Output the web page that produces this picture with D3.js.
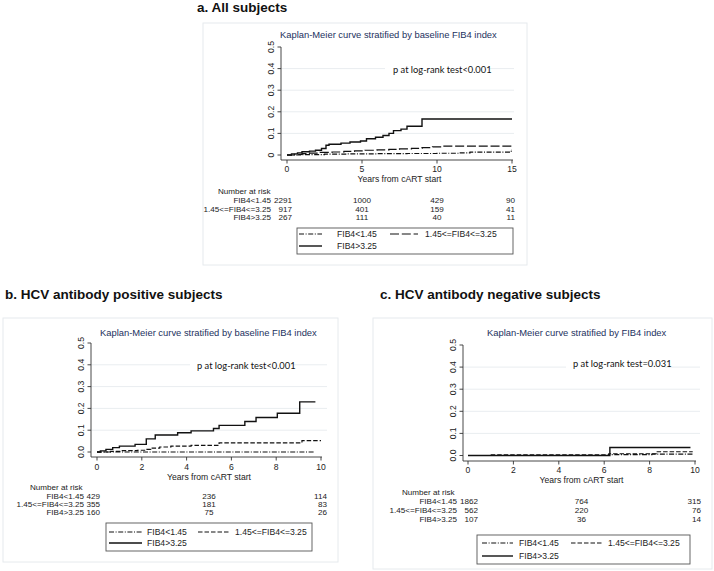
<!DOCTYPE html>
<html><head><meta charset="utf-8">
<script src="https://cdn.jsdelivr.net/npm/d3@7"></script>
<style>body{margin:0;background:#fff}svg{display:block}</style>
</head><body>
<svg id="chart" width="714" height="571"></svg>
<script>
// ---------- DATA ----------
const panelTitles = ["a. All subjects", "b. HCV antibody positive subjects", "c. HCV antibody negative subjects"];
const subtitles = ["Kaplan-Meier curve stratified by baseline FIB4 index", "Kaplan-Meier curve stratified by baseline FIB4 index", "Kaplan-Meier curve stratified by FIB4 index"];
const pTexts = ["p at log-rank test<0.001", "p at log-rank test<0.001", "p at log-rank test=0.031"];
const groups = ["FIB4<1.45", "1.45<=FIB4<=3.25", "FIB4>3.25"];
const xTitle = "Years from cART start";
const riskTitle = "Number at risk";
const yTicks = [0, 0.1, 0.2, 0.3, 0.4, 0.5];
const yLabelsA = ["0", "0.1", "0.2", "0.3", "0.4", "0.5"];
const yLabelsBC = ["0.0", "0.1", "0.2", "0.3", "0.4", "0.5"];
const xTicksA = [0, 5, 10, 15];
const xTicksBC = [0, 2, 4, 6, 8, 10];
const riskTimesA = [0, 5, 10, 15];
const riskTimesBC = [0, 5, 10];
const riskA = [[2291, 1000, 429, 90], [917, 401, 159, 41], [267, 111, 40, 11]];
const riskB = [[429, 236, 114], [355, 181, 83], [160, 75, 26]];
const riskC = [[1862, 764, 315], [562, 220, 76], [107, 36, 14]];

// cumulative incidence step curves: [years, proportion]
const curveA_low = [[0,0],[1,0.002],[2.5,0.004],[4,0.005],[6,0.006],[8,0.007],[10,0.008],[11.5,0.01],[12.2,0.013],[14.95,0.024],[15,0.024]];
const curveA_mid = [[0,0],[0.5,0.003],[1,0.006],[1.5,0.009],[2.2,0.012],[3,0.014],[3.8,0.017],[4.5,0.019],[5.2,0.022],[6,0.024],[6.8,0.026],[7.5,0.028],[8.3,0.031],[9,0.034],[9.7,0.038],[10.3,0.041],[15,0.041]];
const curveA_high = [[0,0],[0.3,0.005],[0.7,0.01],[1.0,0.015],[1.5,0.018],[1.9,0.022],[2.3,0.03],[2.6,0.045],[2.8,0.05],[3.6,0.055],[4.2,0.06],[4.9,0.065],[5.3,0.075],[5.9,0.082],[6.4,0.09],[6.8,0.1],[7.1,0.113],[7.6,0.12],[8.0,0.133],[9.0,0.167],[15,0.167]];
const curveB_low = [[0,0],[9.7,0]];
const curveB_mid = [[0,0],[0.6,0.003],[1.1,0.006],[1.8,0.008],[2.2,0.012],[2.4,0.018],[2.8,0.023],[3.3,0.027],[4.2,0.03],[5.45,0.042],[9.15,0.052],[10,0.052]];
const curveB_high = [[0,0],[0.15,0.005],[0.4,0.012],[0.7,0.02],[1.0,0.027],[1.7,0.035],[2.2,0.06],[2.6,0.078],[3.6,0.088],[4.2,0.097],[5.2,0.108],[5.45,0.122],[6.6,0.14],[7.1,0.158],[8.05,0.178],[9.05,0.23],[9.75,0.23]];
const curveC_low = [[0,0],[6.2,0.004],[8.1,0.006],[9.9,0.006]];
const curveC_mid = [[1.0,0.003],[6.2,0.008],[8.3,0.017],[9.9,0.017]];
const curveC_high = [[0,0],[6.25,0.036],[9.8,0.036]];

// ---------- LAYOUT ----------
const svg = d3.select("#chart");
const FONT = "'Liberation Sans', Arial, sans-serif";
const styles = {
  a: [{dash:"5,1.6,1,1.6"}, {dash:"9,2.8"}, {dash:null}],
  bc: [{dash:"5,1.6,1,1.6"}, {dash:"4.5,2"}, {dash:null}]
};

const panels = [
  {title: panelTitles[0], titleX: 197, titleY: 12, box: [203, 23, 527, 265],
   xd: [0, 15], xr: [287, 512], yr: [155, 47], yAxisX: 281, xAxisY: 160, gridR: 514,
   subX: 280, subY: 38, pX: 393, pY: 73, pBox: [385, 490],
   xTicks: xTicksA, yLabels: yLabelsA, tickY: 172, xTitleY: 182,
   riskX: 218, riskY: 194, rowY: [203, 211.5, 220], labelR: 271, riskTimes: riskTimesA, risk: riskA,
   firstR: 292, lastR: 515,
   curves: [curveA_low, curveA_mid, curveA_high], st: styles.a,
   leg: {box: [297, 228, 513, 254], r1: 234, r2: 246, l1: [299, 322], t1: 337, l2: [390, 418], t2: 425}},
  {title: panelTitles[1], titleX: 5, titleY: 299, box: [3, 318, 338, 562],
   xd: [0, 10], xr: [97, 321], yr: [452, 343], yAxisX: 91, xAxisY: 457, gridR: 327,
   subX: 100, subY: 336, pX: 197, pY: 369, pBox: [190, 290],
   xTicks: xTicksBC, yLabels: yLabelsBC, tickY: 469.5, xTitleY: 479.5,
   riskX: 30, riskY: 490, rowY: [499, 507, 515], labelR: 84, riskTimes: riskTimesBC, risk: riskB,
   firstR: 100, lastR: 327,
   curves: [curveB_low, curveB_mid, curveB_high], st: styles.bc,
   leg: {box: [106, 523, 312, 551], r1: 532, r2: 543, l1: [109, 142], t1: 147, l2: [198, 229], t2: 235}},
  {title: panelTitles[2], titleX: 380, titleY: 299, box: [373, 318, 712, 569],
   xd: [0, 10], xr: [468, 695], yr: [455.5, 345], yAxisX: 463, xAxisY: 461, gridR: 700,
   subX: 487, subY: 336, pX: 573, pY: 367, pBox: [566, 665],
   xTicks: xTicksBC, yLabels: yLabelsBC, tickY: 473.3, xTitleY: 483.3,
   riskX: 402, riskY: 495, rowY: [504, 513, 521.5], labelR: 457, riskTimes: riskTimesBC, risk: riskC,
   firstR: 478, lastR: 701,
   curves: [curveC_low, curveC_mid, curveC_high], st: styles.bc,
   leg: {box: [477, 535, 690, 564], r1: 543, r2: 556, l1: [482, 513], t1: 519, l2: [571, 603], t2: 608}}
];

panels.forEach((p, pi) => {
  const g = svg.append("g");
  g.append("rect").attr("x", p.box[0]).attr("y", p.box[1])
    .attr("width", p.box[2] - p.box[0]).attr("height", p.box[3] - p.box[1])
    .attr("fill", "#fff").attr("stroke", "#e6eaed").attr("stroke-width", 1);
  svg.append("text").attr("x", p.titleX).attr("y", p.titleY).text(p.title)
    .attr("font-family", FONT).attr("font-weight", "bold").attr("font-size", 13.5).attr("fill", "#111");

  const x = d3.scaleLinear().domain(p.xd).range(p.xr);
  const y = d3.scaleLinear().domain([0, 0.5]).range(p.yr);

  g.selectAll(".grid").data(yTicks.filter(v => v > 0 && v < 0.5)).join("line")
    .attr("x1", p.yAxisX).attr("x2", p.gridR).attr("y1", d => y(d)).attr("y2", d => y(d))
    .attr("stroke", "#e9edf0").attr("stroke-width", 1);

  g.append("text").attr("x", p.subX).attr("y", p.subY).text(subtitles[pi])
    .attr("font-family", FONT).attr("font-size", 9.4).attr("fill", "#23315e");

  g.append("rect").attr("x", p.pBox[0]).attr("y", p.pY - 9).attr("width", p.pBox[1] - p.pBox[0]).attr("height", 12).attr("fill", "#fff");
  g.append("text").attr("x", p.pX).attr("y", p.pY).text(pTexts[pi])
    .attr("font-family", "Lato, 'Open Sans', sans-serif").attr("font-size", 9.3).attr("fill", "#111");

  g.append("line").attr("x1", p.yAxisX).attr("x2", p.yAxisX).attr("y1", y(0.5)).attr("y2", p.xAxisY)
    .attr("stroke", "#333").attr("stroke-width", 0.9);
  g.selectAll(".yt").data(yTicks).join("line")
    .attr("x1", p.yAxisX - 3.5).attr("x2", p.yAxisX).attr("y1", d => y(d)).attr("y2", d => y(d))
    .attr("stroke", "#333").attr("stroke-width", 0.9);
  g.selectAll(".yl").data(yTicks).join("text")
    .attr("transform", d => `translate(${p.yAxisX - 7},${y(d)}) rotate(-90)`)
    .attr("text-anchor", "middle").attr("font-family", FONT).attr("font-size", 8.6).attr("fill", "#222")
    .text((d, i) => p.yLabels[i]);

  g.append("line").attr("x1", p.yAxisX).attr("x2", x(p.xd[1]) + 1).attr("y1", p.xAxisY).attr("y2", p.xAxisY)
    .attr("stroke", "#333").attr("stroke-width", 0.9);
  g.selectAll(".xt").data(p.xTicks).join("line")
    .attr("x1", d => x(d)).attr("x2", d => x(d)).attr("y1", p.xAxisY).attr("y2", p.xAxisY + 3.5)
    .attr("stroke", "#333").attr("stroke-width", 0.9);
  g.selectAll(".xl").data(p.xTicks).join("text")
    .attr("x", d => x(d)).attr("y", p.tickY).attr("text-anchor", "middle")
    .attr("font-family", FONT).attr("font-size", 8.6).attr("fill", "#222").text(d => d);
  g.append("text").attr("x", (x(p.xd[0]) + x(p.xd[1])) / 2).attr("y", p.xTitleY).attr("text-anchor", "middle")
    .attr("font-family", FONT).attr("font-size", 8.6).attr("fill", "#222").text(xTitle);

  const line = d3.line().x(d => x(d[0])).y(d => y(d[1])).curve(d3.curveStepAfter);
  [1, 0, 2].forEach(ci => {
    g.append("path").attr("d", line(p.curves[ci])).attr("fill", "none")
      .attr("stroke", "#111").attr("stroke-width", ci === 2 ? 1.4 : 1.2)
      .attr("stroke-dasharray", p.st[ci].dash);
  });

  const RF = 8.1;
  g.append("text").attr("x", p.riskX).attr("y", p.riskY).text(riskTitle)
    .attr("font-family", FONT).attr("font-size", RF).attr("fill", "#222");
  groups.forEach((gr, ri) => {
    g.append("text").attr("x", p.labelR).attr("y", p.rowY[ri]).attr("text-anchor", "end")
      .attr("font-family", FONT).attr("font-size", RF).attr("fill", "#222").text(gr);
    p.risk[ri].forEach((n, ti) => {
      const last = ti === p.riskTimes.length - 1;
      const first = ti === 0;
      const t = g.append("text").attr("y", p.rowY[ri]).attr("font-family", FONT).attr("font-size", RF).attr("fill", "#222").text(n);
      if (first) t.attr("x", p.firstR).attr("text-anchor", "end");
      else if (last) t.attr("x", p.lastR).attr("text-anchor", "end");
      else t.attr("x", x(p.riskTimes[ti])).attr("text-anchor", "middle");
    });
  });

  const L = p.leg;
  g.append("rect").attr("x", L.box[0]).attr("y", L.box[1]).attr("width", L.box[2] - L.box[0]).attr("height", L.box[3] - L.box[1])
    .attr("fill", "#fff").attr("stroke", "#555").attr("stroke-width", 0.9);
  const entries = [
    {ci: 0, x1: L.l1[0], x2: L.l1[1], tx: L.t1, y: L.r1},
    {ci: 1, x1: L.l2[0], x2: L.l2[1], tx: L.t2, y: L.r1},
    {ci: 2, x1: L.l1[0], x2: L.l1[1], tx: L.t1, y: L.r2}
  ];
  entries.forEach(e => {
    g.append("line").attr("x1", e.x1).attr("x2", e.x2).attr("y1", e.y).attr("y2", e.y)
      .attr("stroke", "#111").attr("stroke-width", e.ci === 2 ? 1.4 : 1.2).attr("stroke-dasharray", p.st[e.ci].dash);
    g.append("text").attr("x", e.tx).attr("y", e.y + 3).text(groups[e.ci])
      .attr("font-family", FONT).attr("font-size", 8.6).attr("fill", "#222");
  });
});
</script>
</body></html>
